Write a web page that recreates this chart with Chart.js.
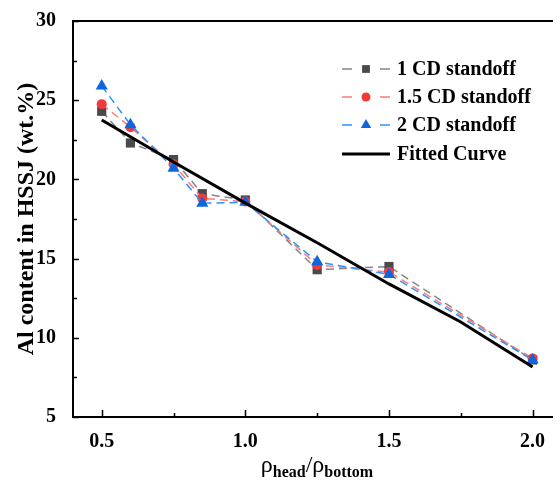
<!DOCTYPE html>
<html>
<head>
<meta charset="utf-8">
<script src="https://cdn.jsdelivr.net/npm/chart.js@4.4.0/dist/chart.umd.min.js"></script>
<style>
  html, body { margin: 0; padding: 0; background: #fff; }
  #wrap { width: 560px; height: 481px; }
</style>
</head>
<body>
<div id="wrap"><canvas id="alChart" width="560" height="481"></canvas></div>
<script>
// density ratio rho_head / rho_bottom
var ratio = [0.5, 0.6, 0.75, 0.85, 1.0, 1.25, 1.5, 2.0];
// Al content (wt.%) for each standoff distance
var cd1 = [24.3, 22.3, 21.25, 19.1, 18.7, 14.3, 14.5, 8.6];
var cd15 = [24.75, 23.3, 20.95, 18.8, 18.6, 14.6, 14.15, 8.7];
var cd2 = [25.9, 23.45, 20.7, 18.5, 18.55, 14.8, 14.0, 8.6];
// fitted curve
var fitX = [0.5, 0.75, 1.0, 1.25, 1.5, 1.75, 2.0];
var fitY = [23.75, 21.1, 18.5, 16.0, 13.4, 11.0, 8.15];

var xTicks = [0.5, 1.0, 1.5, 2.0];
var yTicks = [5, 10, 15, 20, 25, 30];
var seriesNames = ['1 CD standoff', '1.5 CD standoff', '2 CD standoff', 'Fitted Curve'];

var serif = "'Liberation Serif', 'Times New Roman', serif";

function pts(xs, ys) {
  return xs.map(function(x, i) { return { x: x, y: ys[i] }; });
}

function series(name, data, line, fill, style, radius, order) {
  return {
    label: name,
    data: data,
    showLine: true,
    borderColor: line,
    borderWidth: 1.5,
    borderDash: [8, 5],
    pointStyle: style,
    pointRadius: radius,
    pointBackgroundColor: fill,
    pointBorderColor: fill,
    pointBorderWidth: 0,
    order: order
  };
}

var datasets = [
  series(seriesNames[0], pts(ratio, cd1), '#858585', '#4a4a4a', 'rect', 6.5, 4),
  series(seriesNames[1], pts(ratio, cd15), '#ff7a7a', '#f23a3a', 'circle', 5, 3),
  series(seriesNames[2], pts(ratio, cd2), '#2a92ff', '#0e66dc', 'triangle', 7, 2),
  {
    label: seriesNames[3],
    data: pts(fitX, fitY),
    showLine: true,
    borderColor: '#000',
    borderWidth: 3,
    pointRadius: 0,
    order: 1
  }
];

function drawMarker(ctx, ds, x, y) {
  Chart.helpers.drawPoint(ctx, {
    pointStyle: ds.pointStyle,
    radius: ds.pointRadius,
    rotation: 0,
    borderWidth: 0
  }, x, y);
}

// frame, inward ticks, legend and the x title
var frameDeco = {
  id: 'frameDeco',
  afterDraw: function(chart) {
    var ctx = chart.ctx;
    var a = chart.chartArea;
    var xs = chart.scales.x, ys = chart.scales.y;
    ctx.save();
    ctx.strokeStyle = '#000';
    ctx.lineWidth = 2;
    ctx.beginPath();
    ctx.moveTo(a.left, a.top);
    ctx.lineTo(a.right, a.top);
    ctx.moveTo(a.left, a.top - 1);
    ctx.lineTo(a.left, a.bottom + 1);
    ctx.moveTo(a.left - 1, a.bottom);
    ctx.lineTo(a.right, a.bottom);
    ctx.stroke();

    ctx.lineWidth = 1.5;
    ctx.beginPath();
    xTicks.forEach(function(v, i) {
      var px = Math.round(xs.getPixelForValue(v)) + 0.5;
      ctx.moveTo(px, a.bottom);
      ctx.lineTo(px, a.bottom - 7);
      if (i < xTicks.length - 1) {
        var mx = Math.round(xs.getPixelForValue((v + xTicks[i + 1]) / 2)) + 0.5;
        ctx.moveTo(mx, a.bottom);
        ctx.lineTo(mx, a.bottom - 4);
      }
    });
    yTicks.forEach(function(v, i) {
      var py = Math.round(ys.getPixelForValue(v)) + 0.5;
      ctx.moveTo(a.left, py);
      ctx.lineTo(a.left + 6, py);
      if (i < yTicks.length - 1) {
        var my = Math.round(ys.getPixelForValue((v + yTicks[i + 1]) / 2)) + 0.5;
        ctx.moveTo(a.left, my);
        ctx.lineTo(a.left + 4, my);
      }
    });
    ctx.stroke();

    // legend
    var rowY = [69, 97, 125, 154];
    var lx0 = 342, lx1 = 390, textX = 397;
    ctx.font = 'bold 20px ' + serif;
    ctx.textBaseline = 'middle';
    ctx.textAlign = 'left';
    chart.data.datasets.forEach(function(ds, i) {
      var y = rowY[i];
      ctx.strokeStyle = ds.borderColor;
      ctx.lineWidth = ds.borderWidth;
      ctx.beginPath();
      if (ds.borderDash) {
        ctx.moveTo(lx0, y); ctx.lineTo(lx0 + 10, y);
        ctx.moveTo(lx1 - 10, y); ctx.lineTo(lx1, y);
      } else {
        ctx.moveTo(lx0, y); ctx.lineTo(lx1, y);
      }
      ctx.stroke();
      if (ds.pointRadius) {
        ctx.fillStyle = ds.pointBackgroundColor;
        var r = ds.pointStyle === 'triangle' ? 6 : (ds.pointStyle === 'rect' ? 5.5 : 4.5);
        Chart.helpers.drawPoint(ctx, { pointStyle: ds.pointStyle, radius: r, rotation: 0, borderWidth: 0 }, (lx0 + lx1) / 2, y);
      }
      ctx.fillStyle = '#000';
      ctx.fillText(ds.label, textX, y + 1);
    });

    // x title: rho_head / rho_bottom
    var parts = [
      ['\u03c1', '24px ' + serif, 0],
      ['head', 'bold 16px ' + serif, 5],
      ['/', '24px ' + serif, 0],
      ['\u03c1', '24px ' + serif, 0],
      ['bottom', 'bold 16px ' + serif, 5]
    ];
    var total = 0;
    parts.forEach(function(p) { ctx.font = p[1]; total += ctx.measureText(p[0]).width; });
    var cx = (a.left + a.right) / 2 + 4 - total / 2;
    ctx.textBaseline = 'alphabetic';
    ctx.fillStyle = '#000';
    parts.forEach(function(p) {
      ctx.font = p[1];
      ctx.fillText(p[0], cx, 472 + p[2]);
      cx += ctx.measureText(p[0]).width;
    });
    ctx.restore();
  }
};

new Chart(document.getElementById('alChart').getContext('2d'), {
  type: 'scatter',
  data: { datasets: datasets },
  options: {
    responsive: false,
    animation: false,
    layout: { padding: { top: 19, right: 0, left: 0, bottom: 0 } },
    plugins: {
      legend: { display: false },
      tooltip: { enabled: false }
    },
    scales: {
      x: {
        type: 'linear',
        min: 0.4,
        max: 2.071,
        grid: { display: false },
        border: { display: false },
        afterBuildTicks: function(scale) {
          scale.ticks = xTicks.map(function(v) { return { value: v }; });
        },
        afterFit: function(scale) { scale.height = 64; },
        ticks: {
          padding: 5,
          color: '#000',
          font: { family: serif, size: 20, weight: 'bold' },
          callback: function(v) { return Number(v).toFixed(1); }
        }
      },
      y: {
        type: 'linear',
        min: 5,
        max: 30,
        grid: { display: false },
        border: { display: false },
        afterBuildTicks: function(scale) {
          scale.ticks = yTicks.map(function(v) { return { value: v }; });
        },
        afterFit: function(scale) { scale.width = 73; },
        title: {
          display: true,
          text: 'Al content in HSSJ (wt.%)',
          color: '#000',
          font: { family: serif, size: 24, weight: 'bold' },
          padding: { top: 12, bottom: 0 }
        },
        ticks: {
          padding: 9,
          color: '#000',
          font: { family: serif, size: 20, weight: 'bold' }
        }
      }
    }
  },
  plugins: [frameDeco]
});
</script>
</body>
</html>
